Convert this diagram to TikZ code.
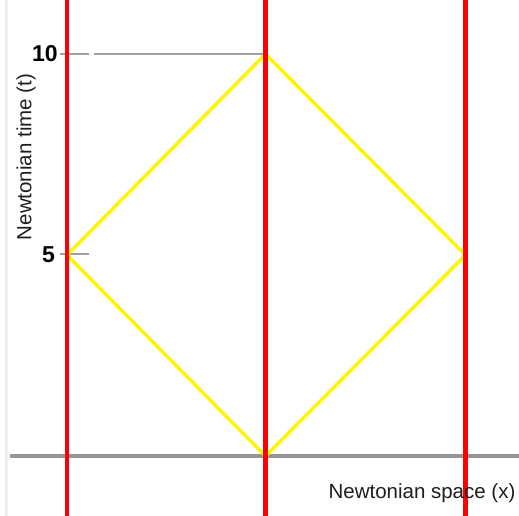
\documentclass[tikz,border=0pt]{standalone}
\usepackage{fontspec}
\setmainfont{Liberation Sans}
\begin{document}
\begin{tikzpicture}[x=1pt,y=-1pt,
  redline/.style={draw={rgb,255:red,255;green,0;blue,0},line width=4.4pt},
  yelline/.style={draw={rgb,255:red,255;green,245;blue,0},line width=3.4pt,line join=miter},
  grayline/.style={draw={rgb,255:red,150;green,150;blue,150},line width=3.2pt},
  tickline/.style={draw={rgb,255:red,160;green,160;blue,160},line width=2.4pt},
  faint/.style={draw={rgb,255:red,238;green,238;blue,238},line width=3pt},
  ticklbl/.style={font=\fontsize{23}{23}\selectfont\bfseries,text=black,inner sep=0pt},
  axlbl/.style={font=\fontsize{20.5}{20.5}\selectfont,text={rgb,255:red,30;green,30;blue,30},inner sep=0pt}]
\useasboundingbox (0,0) rectangle (519,516);
\fill[white] (0,0) rectangle (519,516);
% faint left border
\draw[faint] (6,0) -- (6,516);
% coordinates
\coordinate (L) at (67,255);
\coordinate (T) at (265.5,54);
\coordinate (R) at (465.5,255);
\coordinate (B) at (265.5,456);
\coordinate (axL) at (10,456);
\coordinate (axR) at (519,456);
\coordinate (t10a) at (60,54);
\coordinate (t10b) at (89,54);
\coordinate (t10c) at (94,54);
\coordinate (t5a) at (60,254);
\coordinate (t5b) at (89,254);
% gray axis and ticks
\draw[grayline] (axL) -- (axR);
\draw[tickline] (t10a) -- (t10b);
\draw[tickline] (t10c) -- (T);
\draw[tickline] (t5a) -- (t5b);
% yellow diamond
\draw[yelline] (L) -- (T) -- (R) -- (B) -- cycle;
% red world lines
\draw[redline] (67,0) -- (67,516);
\draw[redline] (265.5,0) -- (265.5,516);
\draw[redline] (465.5,0) -- (465.5,516);
% labels
\node[ticklbl] (n10) at (45,54) {10};
\node[ticklbl] (n5) at (48.5,255) {5};
\node[axlbl,rotate=90] (ty) at (26,157) {Newtonian time (t)};
\node[axlbl] (sx) at (422,493) {Newtonian space (x)};
\end{tikzpicture}
\end{document}
